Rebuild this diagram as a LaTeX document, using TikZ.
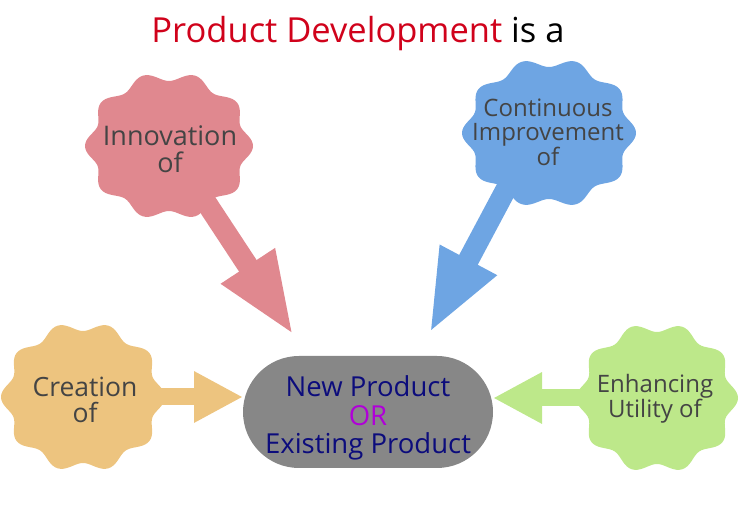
\documentclass[tikz,border=0pt]{standalone}
\usepackage{fontspec}
\setmainfont{Open Sans}
\usepackage{tikz}
\usetikzlibrary{arrows.meta}
\usetikzlibrary{calc}
\usepackage{xcolor}
\definecolor{innovCol}{HTML}{E0888F}
\definecolor{contCol}{HTML}{6EA5E3}
\definecolor{creaCol}{HTML}{EDC47F}
\definecolor{enhCol}{HTML}{BDE88A}
\definecolor{prodCol}{HTML}{878787}
\definecolor{navyCol}{HTML}{0C0C7C}
\definecolor{orCol}{HTML}{B000D8}
\definecolor{titleRed}{HTML}{D0021B}
\definecolor{txtGray}{HTML}{444444}
\def\waveAmp{4.5}
\tikzset{lbl/.style args={#1/#2}{text=txtGray,align=center,font=\fontsize{#1}{#2}\selectfont,inner sep=0}}
\tikzset{bigarrow/.style={draw=#1,line width=21pt,-{Triangle[length=84pt,width=58pt]}}}
\tikzset{sidearrow/.style={draw=#1,line width=17pt,-{Triangle[length=49pt,width=48pt]}}}
\tikzset{prodbox/.style={fill=prodCol,rounded corners=56pt,minimum width=250pt,minimum height=112pt,inner sep=0,align=center,text=navyCol,font=\fontsize{27.5}{28.5}\selectfont}}
\newcommand{\blob}[5]{\fill[#5] plot[domain=0:360,samples=181] ({#1+cos(\x)*(#3-\waveAmp+\waveAmp*cos(10*\x))},{#2+sin(\x)*(#4-\waveAmp+\waveAmp*cos(10*\x))})--cycle;}

\begin{document}
\begin{tikzpicture}[x=1pt,y=-1pt]\useasboundingbox (0,0) rectangle (740,510);
\node[anchor=base,inner sep=0,font=\fontsize{34.5}{36}\selectfont] (ttl) at (358,43) {\textcolor{titleRed}{Product Development} is a};
\node[prodbox] (prod) at (368,412) {};
\node[prodbox,fill=none,minimum width=0pt,minimum height=0pt] (prodtxt) at (368,418) {New Product\\\textcolor{orCol}{OR}\\Existing Product};
\coordinate (innovC) at (169,146);\coordinate (contC) at (549,133);\coordinate (creaC) at (83,397);\coordinate (enhC) at (657,398);
\coordinate (contTail) at (536,133);
\coordinate (innovTip) at (294,336);\coordinate (contTip) at (429,334);\coordinate (creaTip) at (243,397);\coordinate (enhTip) at (493,398);
% arrows first, blobs on top
\draw[bigarrow=innovCol] (innovC)--(innovTip);
\draw[bigarrow=contCol] (contTail)--(contTip);
\draw[sidearrow=creaCol] (creaC)--(creaTip);
\draw[sidearrow=enhCol] (enhC)--(enhTip);
\blob{169}{146}{84}{74}{innovCol}
\blob{549}{133}{87}{75}{contCol}
\blob{83}{397}{82}{75}{creaCol}
\blob{657}{398}{81}{75}{enhCol}
\node[lbl={27/27}] (innov) at (170,149) {Innovation\\of};
\node[lbl={24/24.5}] (cont) at (548,132) {Continuous\\Improvement\\of};
\node[lbl={26.5/26}] (crea) at (85,400) {Creation\\of};
\node[lbl={24/24.5}] (enh) at (655,399) {Enhancing\\Utility of};
\end{tikzpicture}
\end{document}
